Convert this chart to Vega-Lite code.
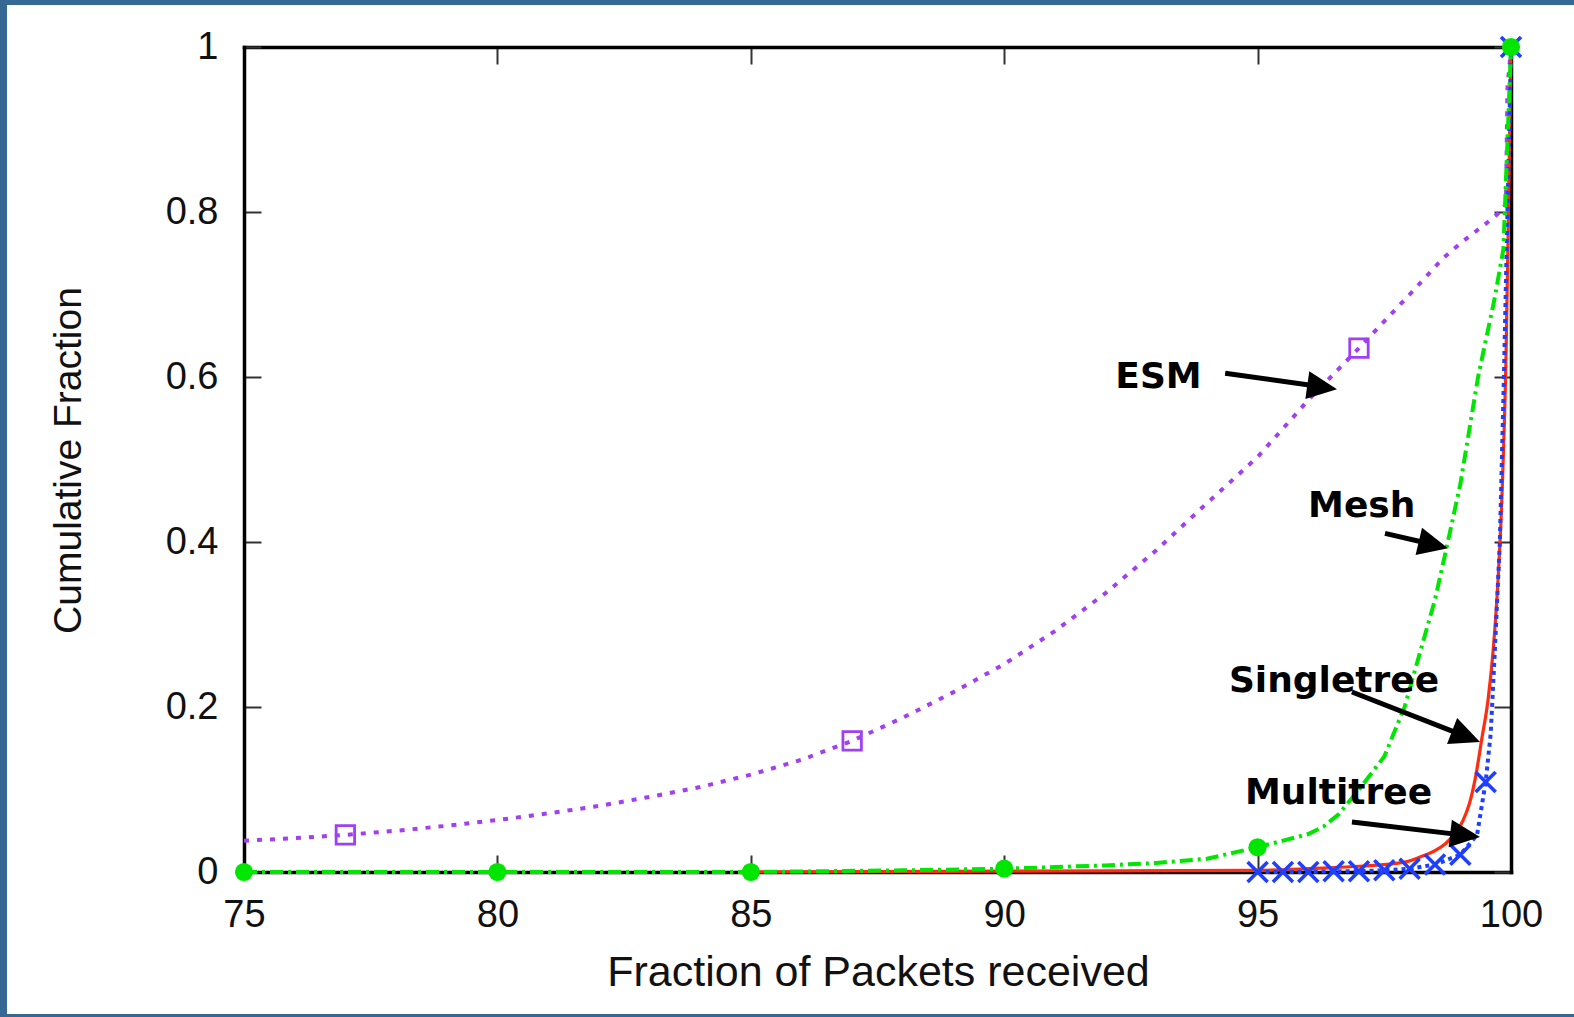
{
  "$schema": "https://vega.github.io/schema/vega-lite/v6.json",
  "width": 1267,
  "height": 825,
  "autosize": {"type": "none"},
  "padding": {"left": 244, "top": 47, "right": 63, "bottom": 145},
  "background": "white",
  "config": {"view": {"stroke": null}},
  "datasets": {
    "lines": [
      {"s": "ESM", "x": 75, "y": 0.038}, {"s": "ESM", "x": 76, "y": 0.041}, {"s": "ESM", "x": 77, "y": 0.045},
      {"s": "ESM", "x": 78, "y": 0.05}, {"s": "ESM", "x": 79, "y": 0.056}, {"s": "ESM", "x": 80, "y": 0.063},
      {"s": "ESM", "x": 81, "y": 0.071}, {"s": "ESM", "x": 82, "y": 0.08}, {"s": "ESM", "x": 83, "y": 0.091},
      {"s": "ESM", "x": 84, "y": 0.103}, {"s": "ESM", "x": 85, "y": 0.118}, {"s": "ESM", "x": 86, "y": 0.136},
      {"s": "ESM", "x": 87, "y": 0.159}, {"s": "ESM", "x": 88, "y": 0.187}, {"s": "ESM", "x": 89, "y": 0.218},
      {"s": "ESM", "x": 90, "y": 0.252}, {"s": "ESM", "x": 91, "y": 0.292}, {"s": "ESM", "x": 92, "y": 0.338},
      {"s": "ESM", "x": 93, "y": 0.39}, {"s": "ESM", "x": 94, "y": 0.447}, {"s": "ESM", "x": 95, "y": 0.503},
      {"s": "ESM", "x": 96, "y": 0.572}, {"s": "ESM", "x": 97, "y": 0.635}, {"s": "ESM", "x": 98, "y": 0.7},
      {"s": "ESM", "x": 98.66, "y": 0.744}, {"s": "ESM", "x": 99, "y": 0.762}, {"s": "ESM", "x": 99.59, "y": 0.79},
      {"s": "ESM", "x": 99.78, "y": 0.8}, {"s": "ESM", "x": 99.9, "y": 0.81}, {"s": "ESM", "x": 99.93, "y": 0.95},
      {"s": "ESM", "x": 100, "y": 1},
      {"s": "Singletree", "x": 85, "y": 0}, {"s": "Singletree", "x": 90, "y": 0.001}, {"s": "Singletree", "x": 95, "y": 0.002},
      {"s": "Singletree", "x": 96, "y": 0.004}, {"s": "Singletree", "x": 97, "y": 0.007}, {"s": "Singletree", "x": 97.9, "y": 0.012},
      {"s": "Singletree", "x": 98.2, "y": 0.018}, {"s": "Singletree", "x": 98.5, "y": 0.026}, {"s": "Singletree", "x": 98.7, "y": 0.034},
      {"s": "Singletree", "x": 98.9, "y": 0.047}, {"s": "Singletree", "x": 99.05, "y": 0.062},
      {"s": "Singletree", "x": 99.18, "y": 0.083}, {"s": "Singletree", "x": 99.3, "y": 0.115}, {"s": "Singletree", "x": 99.42, "y": 0.16},
      {"s": "Singletree", "x": 99.55, "y": 0.21}, {"s": "Singletree", "x": 99.65, "y": 0.27}, {"s": "Singletree", "x": 99.75, "y": 0.36},
      {"s": "Singletree", "x": 99.83, "y": 0.47}, {"s": "Singletree", "x": 99.9, "y": 0.62}, {"s": "Singletree", "x": 99.95, "y": 0.8},
      {"s": "Singletree", "x": 100, "y": 1},
      {"s": "Multitree", "x": 95, "y": 0}, {"s": "Multitree", "x": 95.5, "y": 0}, {"s": "Multitree", "x": 96, "y": 0},
      {"s": "Multitree", "x": 96.5, "y": 0.001}, {"s": "Multitree", "x": 97, "y": 0.001}, {"s": "Multitree", "x": 97.5, "y": 0.002},
      {"s": "Multitree", "x": 98, "y": 0.004}, {"s": "Multitree", "x": 98.5, "y": 0.009}, {"s": "Multitree", "x": 99, "y": 0.021},
      {"s": "Multitree", "x": 99.33, "y": 0.045}, {"s": "Multitree", "x": 99.5, "y": 0.109}, {"s": "Multitree", "x": 99.6, "y": 0.168},
      {"s": "Multitree", "x": 99.68, "y": 0.267}, {"s": "Multitree", "x": 99.78, "y": 0.4}, {"s": "Multitree", "x": 99.86, "y": 0.6},
      {"s": "Multitree", "x": 99.93, "y": 0.8}, {"s": "Multitree", "x": 100, "y": 1},
      {"s": "Mesh", "x": 75, "y": 0}, {"s": "Mesh", "x": 80, "y": 0}, {"s": "Mesh", "x": 85, "y": 0},
      {"s": "Mesh", "x": 88, "y": 0.002}, {"s": "Mesh", "x": 90, "y": 0.004}, {"s": "Mesh", "x": 92, "y": 0.008},
      {"s": "Mesh", "x": 93, "y": 0.011}, {"s": "Mesh", "x": 94, "y": 0.016}, {"s": "Mesh", "x": 95, "y": 0.03},
      {"s": "Mesh", "x": 95.5, "y": 0.038}, {"s": "Mesh", "x": 96, "y": 0.046}, {"s": "Mesh", "x": 96.3, "y": 0.055},
      {"s": "Mesh", "x": 96.6, "y": 0.07}, {"s": "Mesh", "x": 97, "y": 0.1}, {"s": "Mesh", "x": 97.5, "y": 0.14},
      {"s": "Mesh", "x": 97.9, "y": 0.2}, {"s": "Mesh", "x": 98.2, "y": 0.265}, {"s": "Mesh", "x": 98.5, "y": 0.33},
      {"s": "Mesh", "x": 98.7, "y": 0.385}, {"s": "Mesh", "x": 99, "y": 0.47}, {"s": "Mesh", "x": 99.35, "y": 0.6},
      {"s": "Mesh", "x": 99.67, "y": 0.693}, {"s": "Mesh", "x": 99.85, "y": 0.755}, {"s": "Mesh", "x": 100, "y": 1}
    ],
    "markers": [
      {"s": "ESM", "x": 77, "y": 0.045}, {"s": "ESM", "x": 87, "y": 0.159}, {"s": "ESM", "x": 97, "y": 0.635},
      {"s": "Multitree", "x": 95, "y": 0}, {"s": "Multitree", "x": 95.5, "y": 0}, {"s": "Multitree", "x": 96, "y": 0},
      {"s": "Multitree", "x": 96.5, "y": 0.001}, {"s": "Multitree", "x": 97, "y": 0.001}, {"s": "Multitree", "x": 97.5, "y": 0.002},
      {"s": "Multitree", "x": 98, "y": 0.004}, {"s": "Multitree", "x": 98.5, "y": 0.009}, {"s": "Multitree", "x": 99, "y": 0.021},
      {"s": "Multitree", "x": 99.5, "y": 0.109}, {"s": "Multitree", "x": 100, "y": 1},
      {"s": "Mesh", "x": 75, "y": 0}, {"s": "Mesh", "x": 80, "y": 0}, {"s": "Mesh", "x": 85, "y": 0},
      {"s": "Mesh", "x": 90, "y": 0.004}, {"s": "Mesh", "x": 95, "y": 0.03}, {"s": "Mesh", "x": 100, "y": 1}
    ],
    "labels": [
      {"t": "ESM", "x": 93.045, "y": 0.5867},
      {"t": "Mesh", "x": 97.055, "y": 0.4303},
      {"t": "Singletree", "x": 96.508, "y": 0.2182},
      {"t": "Multitree", "x": 96.597, "y": 0.0824}
    ],
    "shafts": [
      {"a": "ESM", "x": 94.36, "y": 0.6046, "x2": 96.332, "y2": 0.5875},
      {"a": "Mesh", "x": 97.514, "y": 0.4105, "x2": 98.526, "y2": 0.3961},
      {"a": "Singletree", "x": 96.862, "y": 0.2182, "x2": 99.168, "y2": 0.1629},
      {"a": "Multitree", "x": 96.862, "y": 0.0606, "x2": 99.153, "y2": 0.0441}
    ],
    "heads": [
      {"a": "ESM", "x": 96.567, "y": 0.5851},
      {"a": "Mesh", "x": 98.757, "y": 0.3924},
      {"a": "Singletree", "x": 99.389, "y": 0.1576},
      {"a": "Multitree", "x": 99.389, "y": 0.0424}
    ],
    "frame": [
      {"x": 70.185, "x2": 101.56, "y": 1.0594, "y2": -0.1806}
    ]
  },
  "layer": [
    {
      "encoding": {
        "x": {
          "field": "x", "type": "quantitative",
          "scale": {"domain": [75, 100], "nice": false, "zero": false},
          "axis": {
            "orient": "bottom", "values": [75, 80, 85, 90, 95, 100], "grid": false,
            "domain": true, "domainColor": "black", "domainWidth": 3.5, "domainCap": "square",
            "tickSize": -17, "tickWidth": 2, "tickColor": "#333333",
            "labelFont": "Liberation Sans", "labelFontSize": 38, "labelColor": "#111111",
            "labelBaseline": "alphabetic", "labelPadding": 71, "labelDx": 14, "labelFlush": false, "labelOverlap": false,
            "title": "Fraction of Packets received", "titleFont": "Liberation Sans", "titleFontSize": 43,
            "titleFontWeight": "normal", "titleColor": "#111111", "titleX": 634, "titleY": 113,
            "titleAlign": "center", "titleBaseline": "alphabetic"
          }
        },
        "y": {
          "field": "y", "type": "quantitative",
          "scale": {"domain": [0, 1], "nice": false, "zero": false},
          "axis": {
            "orient": "left", "values": [0, 0.2, 0.4, 0.6, 0.8, 1], "format": "~g", "grid": false,
            "domain": true, "domainColor": "black", "domainWidth": 3.5, "domainCap": "square",
            "tickSize": -17, "tickWidth": 2, "tickColor": "#333333",
            "labelFont": "Liberation Sans", "labelFontSize": 38, "labelColor": "#111111",
            "labelPadding": 43, "labelFlush": false, "labelOverlap": false,
            "title": "Cumulative Fraction", "titleFont": "Liberation Sans", "titleFontSize": 39,
            "titleFontWeight": "normal", "titleColor": "#111111", "titleX": -164, "titleY": 413,
            "titleAngle": -90, "titleAlign": "center", "titleBaseline": "alphabetic"
          }
        }
      },
      "layer": [
        {
          "data": {"name": "lines"},
          "transform": [{"filter": "datum.s === 'ESM'"}],
          "mark": {"type": "line", "color": "#a040f0", "strokeWidth": 4, "strokeDash": [5, 8]}
        },
        {
          "data": {"name": "lines"},
          "transform": [{"filter": "datum.s === 'Singletree'"}],
          "mark": {"type": "line", "color": "#ff2d10", "strokeWidth": 3.2, "interpolate": "monotone"}
        },
        {
          "data": {"name": "lines"},
          "transform": [{"filter": "datum.s === 'Multitree'"}],
          "mark": {"type": "line", "color": "#1f3fff", "strokeWidth": 4, "strokeDash": [4, 4]}
        },
        {
          "data": {"name": "lines"},
          "transform": [{"filter": "datum.s === 'Mesh'"}],
          "mark": {"type": "line", "color": "#00e600", "strokeWidth": 4, "strokeDash": [13, 5, 3, 5]}
        },
        {
          "data": {"name": "markers"},
          "transform": [{"filter": "datum.s === 'ESM'"}],
          "mark": {"type": "point", "shape": "square", "filled": false, "color": "#a040f0", "size": 340, "strokeWidth": 2.8, "opacity": 1}
        },
        {
          "data": {"name": "markers"},
          "transform": [{"filter": "datum.s === 'Multitree'"}],
          "mark": {"type": "point", "shape": "M-1,-1L1,1M-1,1L1,-1", "filled": false, "color": "#1f3fff", "size": 400, "strokeWidth": 3.6, "opacity": 1}
        },
        {
          "data": {"name": "markers"},
          "transform": [{"filter": "datum.s === 'Mesh'"}],
          "mark": {"type": "point", "shape": "circle", "filled": true, "color": "#00e600", "size": 330, "opacity": 1}
        },
        {
          "data": {"name": "shafts"},
          "mark": {"type": "rule", "color": "black", "strokeWidth": 5},
          "encoding": {"x2": {"field": "x2"}, "y2": {"field": "y2"}}
        },
        {
          "data": {"name": "heads"},
          "transform": [{"filter": "datum.a === 'ESM'"}],
          "mark": {"type": "point", "shape": "M0,0L-2,-0.93L-2,0.93Z", "filled": true, "color": "black", "size": 900, "angle": 8.1, "opacity": 1}
        },
        {
          "data": {"name": "heads"},
          "transform": [{"filter": "datum.a === 'Mesh'"}],
          "mark": {"type": "point", "shape": "M0,0L-2,-0.93L-2,0.93Z", "filled": true, "color": "black", "size": 900, "angle": 13.4, "opacity": 1}
        },
        {
          "data": {"name": "heads"},
          "transform": [{"filter": "datum.a === 'Singletree'"}],
          "mark": {"type": "point", "shape": "M0,0L-2,-0.93L-2,0.93Z", "filled": true, "color": "black", "size": 900, "angle": 21.3, "opacity": 1}
        },
        {
          "data": {"name": "heads"},
          "transform": [{"filter": "datum.a === 'Multitree'"}],
          "mark": {"type": "point", "shape": "M0,0L-2,-0.93L-2,0.93Z", "filled": true, "color": "black", "size": 900, "angle": 6.7, "opacity": 1}
        },
        {
          "data": {"name": "labels"},
          "mark": {"type": "text", "font": "DejaVu Sans", "fontWeight": "bold", "fontSize": 36, "color": "black", "align": "center", "baseline": "alphabetic"},
          "encoding": {"text": {"field": "t"}}
        },
        {
          "data": {"name": "frame"},
          "mark": {"type": "rect", "fill": "transparent", "stroke": "#366895", "strokeWidth": 14, "clip": false},
          "encoding": {"x2": {"field": "x2"}, "y2": {"field": "y2"}}
        }
      ]
    },
    {
      "data": {"values": [{"x": 75, "y": 0}]},
      "mark": {"type": "point", "opacity": 0},
      "encoding": {
        "x": {
          "field": "x", "type": "quantitative",
          "scale": {"domain": [75, 100], "nice": false, "zero": false},
          "axis": {"orient": "top", "values": [75, 80, 85, 90, 95, 100], "labels": false, "grid": false,
                   "domain": true, "domainColor": "black", "domainWidth": 3.5, "domainCap": "square",
                   "tickSize": -17, "tickWidth": 2, "tickColor": "#333333", "title": null}
        },
        "y": {
          "field": "y", "type": "quantitative",
          "scale": {"domain": [0, 1], "nice": false, "zero": false},
          "axis": {"orient": "right", "values": [0, 0.2, 0.4, 0.6, 0.8, 1], "labels": false, "grid": false,
                   "domain": true, "domainColor": "black", "domainWidth": 3.5, "domainCap": "square",
                   "tickSize": -17, "tickWidth": 2, "tickColor": "#333333", "title": null}
        }
      }
    }
  ],
  "resolve": {"scale": {"x": "independent", "y": "independent"}}
}
